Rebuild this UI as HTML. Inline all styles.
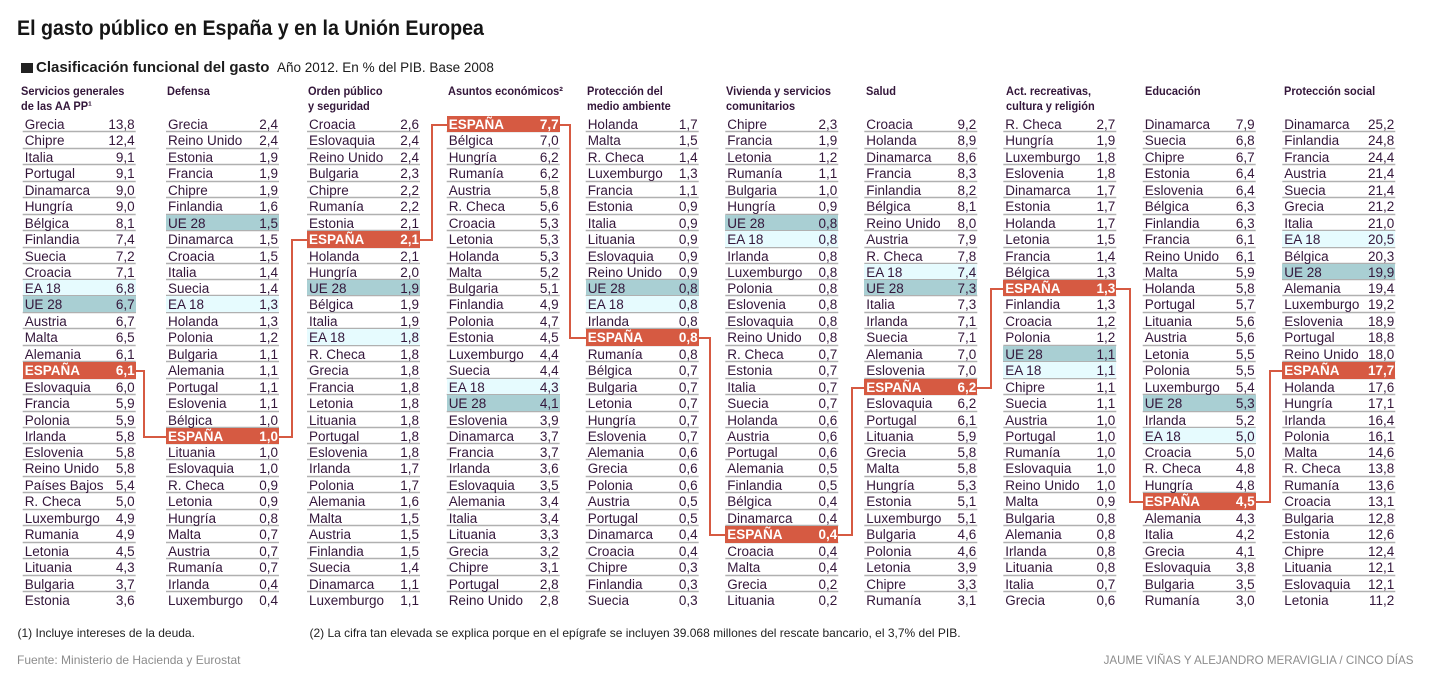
<!DOCTYPE html>
<html lang="es">
<head>
<meta charset="utf-8">
<style>
html,body{margin:0;padding:0;background:#fff;}
body{width:1430px;height:676px;position:relative;overflow:hidden;font-family:"Liberation Sans",Arial,sans-serif;}
.t{position:absolute;left:17px;top:16.7px;font-weight:bold;font-size:21px;line-height:24px;color:#151515;white-space:nowrap;transform:scaleX(0.935);transform-origin:0 0;}
.sq{position:absolute;left:21px;top:62.5px;width:12px;height:10.5px;background:#222;}
.st{position:absolute;left:36px;top:58.8px;font-weight:bold;font-size:15px;line-height:18px;color:#1c1c1c;white-space:nowrap;}
.st2{position:absolute;left:277px;top:59.3px;font-size:13.5px;line-height:18px;color:#1c1c1c;white-space:nowrap;}
.h{position:absolute;top:84.4px;font-weight:bold;font-size:12px;line-height:14.3px;color:#33163a;white-space:nowrap;transform:scaleX(0.917);transform-origin:0 0;}
.c{position:absolute;top:116px;width:113px;}
.c>div{height:16px;box-sizing:border-box;line-height:18px;padding-left:2px;position:relative;white-space:nowrap;font-size:13.5px;color:#33163a;}
.c>div:nth-child(2n){height:17px;}
.c>div:nth-child(10n){height:16px;}
.c>div b{position:absolute;right:1px;top:0;font-weight:normal;}
.c>div.ue{background:#a9cfd3;border-bottom:1px solid #b0b0b0;}
.c>div.ea{background:#e6fbfe;border-bottom:1px solid #b0b0b0;}
.c>div.es{background:#d65a42;color:#fff;font-weight:bold;}
.c>div.es b{font-weight:bold;}
.fn{position:absolute;top:625.8px;font-size:12px;line-height:14px;color:#222;white-space:nowrap;}
.src{position:absolute;left:17px;top:653.3px;font-size:12px;line-height:14px;color:#8c8c8c;white-space:nowrap;}
.cr{position:absolute;right:16.5px;top:653.5px;font-size:11.6px;line-height:14px;color:#8c8c8c;white-space:nowrap;}
svg{position:absolute;left:0;top:0;}
</style>
</head>
<body>
<div class="t">El gasto público en España y en la Unión Europea</div>
<div class="sq"></div>
<div class="st">Clasificación funcional del gasto</div>
<div class="st2">Año 2012. En % del PIB. Base 2008</div>

<div class="h" style="left:20.5px">Servicios generales<br>de las AA PP¹</div>
<div class="h" style="left:166.5px">Defensa</div>
<div class="h" style="left:307.5px">Orden público<br>y seguridad</div>
<div class="h" style="left:447.8px">Asuntos económicos²</div>
<div class="h" style="left:587.2px">Protección del<br>medio ambiente</div>
<div class="h" style="left:726.2px">Vivienda y servicios<br>comunitarios</div>
<div class="h" style="left:865.5px">Salud</div>
<div class="h" style="left:1005.5px">Act. recreativas,<br>cultura y religión</div>
<div class="h" style="left:1144.5px">Educación</div>
<div class="h" style="left:1283.5px">Protección social</div>

<svg width="1430" height="676" viewBox="0 0 1430 676">
<defs>
<path id="L" d="M0 131.5h113M0 148.5h113M0 164.5h113M0 181.5h113M0 197.5h113M0 214.5h113M0 230.5h113M0 247.5h113M0 263.5h113M0 279.5h113M0 295.5h113M0 312.5h113M0 328.5h113M0 345.5h113M0 361.5h113M0 378.5h113M0 394.5h113M0 411.5h113M0 427.5h113M0 443.5h113M0 459.5h113M0 476.5h113M0 492.5h113M0 509.5h113M0 525.5h113M0 542.5h113M0 558.5h113M0 575.5h113M0 591.5h113"/>
</defs>
<g fill="none" stroke="#b0b0b0" stroke-width="1.4">
<use href="#L" x="22.7"/>
<use href="#L" x="166"/>
<use href="#L" x="307"/>
<use href="#L" x="446.7"/>
<use href="#L" x="585.7"/>
<use href="#L" x="725.3"/>
<use href="#L" x="864.3"/>
<use href="#L" x="1003.3"/>
<use href="#L" x="1142.7"/>
<use href="#L" x="1282.3"/>
</g>
<g fill="none" stroke="#d65a42" stroke-width="2">
<polyline points="136,371 144,371 144,437 167,437"/>
<polyline points="278,437 292,437 292,240 308,240"/>
<polyline points="420,240 432,240 432,125 447,125"/>
<polyline points="560,125 570,125 570,338 586,338"/>
<polyline points="699,338 710,338 710,535 726,535"/>
<polyline points="838,535 852,535 852,388 865,388"/>
<polyline points="977,388 991,388 991,289 1004,289"/>
<polyline points="1116,289 1130,289 1130,502 1143,502"/>
<polyline points="1255,502 1270,502 1270,371 1283,371"/>
</g>
</svg>

<div class="c" style="left:22.7px">
<div>Grecia<b>13,8</b></div>
<div>Chipre<b>12,4</b></div>
<div>Italia<b>9,1</b></div>
<div>Portugal<b>9,1</b></div>
<div>Dinamarca<b>9,0</b></div>
<div>Hungría<b>9,0</b></div>
<div>Bélgica<b>8,1</b></div>
<div>Finlandia<b>7,4</b></div>
<div>Suecia<b>7,2</b></div>
<div>Croacia<b>7,1</b></div>
<div class="ea">EA 18<b>6,8</b></div>
<div class="ue">UE 28<b>6,7</b></div>
<div>Austria<b>6,7</b></div>
<div>Malta<b>6,5</b></div>
<div>Alemania<b>6,1</b></div>
<div class="es">ESPAÑA<b>6,1</b></div>
<div>Eslovaquia<b>6,0</b></div>
<div>Francia<b>5,9</b></div>
<div>Polonia<b>5,9</b></div>
<div>Irlanda<b>5,8</b></div>
<div>Eslovenia<b>5,8</b></div>
<div>Reino Unido<b>5,8</b></div>
<div>Países Bajos<b>5,4</b></div>
<div>R. Checa<b>5,0</b></div>
<div>Luxemburgo<b>4,9</b></div>
<div>Rumania<b>4,9</b></div>
<div>Letonia<b>4,5</b></div>
<div>Lituania<b>4,3</b></div>
<div>Bulgaria<b>3,7</b></div>
<div>Estonia<b>3,6</b></div>
</div>

<div class="c" style="left:166px">
<div>Grecia<b>2,4</b></div>
<div>Reino Unido<b>2,4</b></div>
<div>Estonia<b>1,9</b></div>
<div>Francia<b>1,9</b></div>
<div>Chipre<b>1,9</b></div>
<div>Finlandia<b>1,6</b></div>
<div class="ue">UE 28<b>1,5</b></div>
<div>Dinamarca<b>1,5</b></div>
<div>Croacia<b>1,5</b></div>
<div>Italia<b>1,4</b></div>
<div>Suecia<b>1,4</b></div>
<div class="ea">EA 18<b>1,3</b></div>
<div>Holanda<b>1,3</b></div>
<div>Polonia<b>1,2</b></div>
<div>Bulgaria<b>1,1</b></div>
<div>Alemania<b>1,1</b></div>
<div>Portugal<b>1,1</b></div>
<div>Eslovenia<b>1,1</b></div>
<div>Bélgica<b>1,0</b></div>
<div class="es">ESPAÑA<b>1,0</b></div>
<div>Lituania<b>1,0</b></div>
<div>Eslovaquia<b>1,0</b></div>
<div>R. Checa<b>0,9</b></div>
<div>Letonia<b>0,9</b></div>
<div>Hungría<b>0,8</b></div>
<div>Malta<b>0,7</b></div>
<div>Austria<b>0,7</b></div>
<div>Rumanía<b>0,7</b></div>
<div>Irlanda<b>0,4</b></div>
<div>Luxemburgo<b>0,4</b></div>
</div>

<div class="c" style="left:307px">
<div>Croacia<b>2,6</b></div>
<div>Eslovaquia<b>2,4</b></div>
<div>Reino Unido<b>2,4</b></div>
<div>Bulgaria<b>2,3</b></div>
<div>Chipre<b>2,2</b></div>
<div>Rumanía<b>2,2</b></div>
<div>Estonia<b>2,1</b></div>
<div class="es">ESPAÑA<b>2,1</b></div>
<div>Holanda<b>2,1</b></div>
<div>Hungría<b>2,0</b></div>
<div class="ue">UE 28<b>1,9</b></div>
<div>Bélgica<b>1,9</b></div>
<div>Italia<b>1,9</b></div>
<div class="ea">EA 18<b>1,8</b></div>
<div>R. Checa<b>1,8</b></div>
<div>Grecia<b>1,8</b></div>
<div>Francia<b>1,8</b></div>
<div>Letonia<b>1,8</b></div>
<div>Lituania<b>1,8</b></div>
<div>Portugal<b>1,8</b></div>
<div>Eslovenia<b>1,8</b></div>
<div>Irlanda<b>1,7</b></div>
<div>Polonia<b>1,7</b></div>
<div>Alemania<b>1,6</b></div>
<div>Malta<b>1,5</b></div>
<div>Austria<b>1,5</b></div>
<div>Finlandia<b>1,5</b></div>
<div>Suecia<b>1,4</b></div>
<div>Dinamarca<b>1,1</b></div>
<div>Luxemburgo<b>1,1</b></div>
</div>

<div class="c" style="left:446.7px">
<div class="es">ESPAÑA<b>7,7</b></div>
<div>Bélgica<b>7,0</b></div>
<div>Hungría<b>6,2</b></div>
<div>Rumanía<b>6,2</b></div>
<div>Austria<b>5,8</b></div>
<div>R. Checa<b>5,6</b></div>
<div>Croacia<b>5,3</b></div>
<div>Letonia<b>5,3</b></div>
<div>Holanda<b>5,3</b></div>
<div>Malta<b>5,2</b></div>
<div>Bulgaria<b>5,1</b></div>
<div>Finlandia<b>4,9</b></div>
<div>Polonia<b>4,7</b></div>
<div>Estonia<b>4,5</b></div>
<div>Luxemburgo<b>4,4</b></div>
<div>Suecia<b>4,4</b></div>
<div class="ea">EA 18<b>4,3</b></div>
<div class="ue">UE 28<b>4,1</b></div>
<div>Eslovenia<b>3,9</b></div>
<div>Dinamarca<b>3,7</b></div>
<div>Francia<b>3,7</b></div>
<div>Irlanda<b>3,6</b></div>
<div>Eslovaquia<b>3,5</b></div>
<div>Alemania<b>3,4</b></div>
<div>Italia<b>3,4</b></div>
<div>Lituania<b>3,3</b></div>
<div>Grecia<b>3,2</b></div>
<div>Chipre<b>3,1</b></div>
<div>Portugal<b>2,8</b></div>
<div>Reino Unido<b>2,8</b></div>
</div>

<div class="c" style="left:585.7px">
<div>Holanda<b>1,7</b></div>
<div>Malta<b>1,5</b></div>
<div>R. Checa<b>1,4</b></div>
<div>Luxemburgo<b>1,3</b></div>
<div>Francia<b>1,1</b></div>
<div>Estonia<b>0,9</b></div>
<div>Italia<b>0,9</b></div>
<div>Lituania<b>0,9</b></div>
<div>Eslovaquia<b>0,9</b></div>
<div>Reino Unido<b>0,9</b></div>
<div class="ue">UE 28<b>0,8</b></div>
<div class="ea">EA 18<b>0,8</b></div>
<div>Irlanda<b>0,8</b></div>
<div class="es">ESPAÑA<b>0,8</b></div>
<div>Rumanía<b>0,8</b></div>
<div>Bélgica<b>0,7</b></div>
<div>Bulgaria<b>0,7</b></div>
<div>Letonia<b>0,7</b></div>
<div>Hungría<b>0,7</b></div>
<div>Eslovenia<b>0,7</b></div>
<div>Alemania<b>0,6</b></div>
<div>Grecia<b>0,6</b></div>
<div>Polonia<b>0,6</b></div>
<div>Austria<b>0,5</b></div>
<div>Portugal<b>0,5</b></div>
<div>Dinamarca<b>0,4</b></div>
<div>Croacia<b>0,4</b></div>
<div>Chipre<b>0,3</b></div>
<div>Finlandia<b>0,3</b></div>
<div>Suecia<b>0,3</b></div>
</div>

<div class="c" style="left:725.3px">
<div>Chipre<b>2,3</b></div>
<div>Francia<b>1,9</b></div>
<div>Letonia<b>1,2</b></div>
<div>Rumanía<b>1,1</b></div>
<div>Bulgaria<b>1,0</b></div>
<div>Hungría<b>0,9</b></div>
<div class="ue">UE 28<b>0,8</b></div>
<div class="ea">EA 18<b>0,8</b></div>
<div>Irlanda<b>0,8</b></div>
<div>Luxemburgo<b>0,8</b></div>
<div>Polonia<b>0,8</b></div>
<div>Eslovenia<b>0,8</b></div>
<div>Eslovaquia<b>0,8</b></div>
<div>Reino Unido<b>0,8</b></div>
<div>R. Checa<b>0,7</b></div>
<div>Estonia<b>0,7</b></div>
<div>Italia<b>0,7</b></div>
<div>Suecia<b>0,7</b></div>
<div>Holanda<b>0,6</b></div>
<div>Austria<b>0,6</b></div>
<div>Portugal<b>0,6</b></div>
<div>Alemania<b>0,5</b></div>
<div>Finlandia<b>0,5</b></div>
<div>Bélgica<b>0,4</b></div>
<div>Dinamarca<b>0,4</b></div>
<div class="es">ESPAÑA<b>0,4</b></div>
<div>Croacia<b>0,4</b></div>
<div>Malta<b>0,4</b></div>
<div>Grecia<b>0,2</b></div>
<div>Lituania<b>0,2</b></div>
</div>

<div class="c" style="left:864.3px">
<div>Croacia<b>9,2</b></div>
<div>Holanda<b>8,9</b></div>
<div>Dinamarca<b>8,6</b></div>
<div>Francia<b>8,3</b></div>
<div>Finlandia<b>8,2</b></div>
<div>Bélgica<b>8,1</b></div>
<div>Reino Unido<b>8,0</b></div>
<div>Austria<b>7,9</b></div>
<div>R. Checa<b>7,8</b></div>
<div class="ea">EA 18<b>7,4</b></div>
<div class="ue">UE 28<b>7,3</b></div>
<div>Italia<b>7,3</b></div>
<div>Irlanda<b>7,1</b></div>
<div>Suecia<b>7,1</b></div>
<div>Alemania<b>7,0</b></div>
<div>Eslovenia<b>7,0</b></div>
<div class="es">ESPAÑA<b>6,2</b></div>
<div>Eslovaquia<b>6,2</b></div>
<div>Portugal<b>6,1</b></div>
<div>Lituania<b>5,9</b></div>
<div>Grecia<b>5,8</b></div>
<div>Malta<b>5,8</b></div>
<div>Hungría<b>5,3</b></div>
<div>Estonia<b>5,1</b></div>
<div>Luxemburgo<b>5,1</b></div>
<div>Bulgaria<b>4,6</b></div>
<div>Polonia<b>4,6</b></div>
<div>Letonia<b>3,9</b></div>
<div>Chipre<b>3,3</b></div>
<div>Rumanía<b>3,1</b></div>
</div>

<div class="c" style="left:1003.3px">
<div>R. Checa<b>2,7</b></div>
<div>Hungría<b>1,9</b></div>
<div>Luxemburgo<b>1,8</b></div>
<div>Eslovenia<b>1,8</b></div>
<div>Dinamarca<b>1,7</b></div>
<div>Estonia<b>1,7</b></div>
<div>Holanda<b>1,7</b></div>
<div>Letonia<b>1,5</b></div>
<div>Francia<b>1,4</b></div>
<div>Bélgica<b>1,3</b></div>
<div class="es">ESPAÑA<b>1,3</b></div>
<div>Finlandia<b>1,3</b></div>
<div>Croacia<b>1,2</b></div>
<div>Polonia<b>1,2</b></div>
<div class="ue">UE 28<b>1,1</b></div>
<div class="ea">EA 18<b>1,1</b></div>
<div>Chipre<b>1,1</b></div>
<div>Suecia<b>1,1</b></div>
<div>Austria<b>1,0</b></div>
<div>Portugal<b>1,0</b></div>
<div>Rumanía<b>1,0</b></div>
<div>Eslovaquia<b>1,0</b></div>
<div>Reino Unido<b>1,0</b></div>
<div>Malta<b>0,9</b></div>
<div>Bulgaria<b>0,8</b></div>
<div>Alemania<b>0,8</b></div>
<div>Irlanda<b>0,8</b></div>
<div>Lituania<b>0,8</b></div>
<div>Italia<b>0,7</b></div>
<div>Grecia<b>0,6</b></div>
</div>

<div class="c" style="left:1142.7px">
<div>Dinamarca<b>7,9</b></div>
<div>Suecia<b>6,8</b></div>
<div>Chipre<b>6,7</b></div>
<div>Estonia<b>6,4</b></div>
<div>Eslovenia<b>6,4</b></div>
<div>Bélgica<b>6,3</b></div>
<div>Finlandia<b>6,3</b></div>
<div>Francia<b>6,1</b></div>
<div>Reino Unido<b>6,1</b></div>
<div>Malta<b>5,9</b></div>
<div>Holanda<b>5,8</b></div>
<div>Portugal<b>5,7</b></div>
<div>Lituania<b>5,6</b></div>
<div>Austria<b>5,6</b></div>
<div>Letonia<b>5,5</b></div>
<div>Polonia<b>5,5</b></div>
<div>Luxemburgo<b>5,4</b></div>
<div class="ue">UE 28<b>5,3</b></div>
<div>Irlanda<b>5,2</b></div>
<div class="ea">EA 18<b>5,0</b></div>
<div>Croacia<b>5,0</b></div>
<div>R. Checa<b>4,8</b></div>
<div>Hungría<b>4,8</b></div>
<div class="es">ESPAÑA<b>4,5</b></div>
<div>Alemania<b>4,3</b></div>
<div>Italia<b>4,2</b></div>
<div>Grecia<b>4,1</b></div>
<div>Eslovaquia<b>3,8</b></div>
<div>Bulgaria<b>3,5</b></div>
<div>Rumanía<b>3,0</b></div>
</div>

<div class="c" style="left:1282.3px">
<div>Dinamarca<b>25,2</b></div>
<div>Finlandia<b>24,8</b></div>
<div>Francia<b>24,4</b></div>
<div>Austria<b>21,4</b></div>
<div>Suecia<b>21,4</b></div>
<div>Grecia<b>21,2</b></div>
<div>Italia<b>21,0</b></div>
<div class="ea">EA 18<b>20,5</b></div>
<div>Bélgica<b>20,3</b></div>
<div class="ue">UE 28<b>19,9</b></div>
<div>Alemania<b>19,4</b></div>
<div>Luxemburgo<b>19,2</b></div>
<div>Eslovenia<b>18,9</b></div>
<div>Portugal<b>18,8</b></div>
<div>Reino Unido<b>18,0</b></div>
<div class="es">ESPAÑA<b>17,7</b></div>
<div>Holanda<b>17,6</b></div>
<div>Hungría<b>17,1</b></div>
<div>Irlanda<b>16,4</b></div>
<div>Polonia<b>16,1</b></div>
<div>Malta<b>14,6</b></div>
<div>R. Checa<b>13,8</b></div>
<div>Rumanía<b>13,6</b></div>
<div>Croacia<b>13,1</b></div>
<div>Bulgaria<b>12,8</b></div>
<div>Estonia<b>12,6</b></div>
<div>Chipre<b>12,4</b></div>
<div>Lituania<b>12,1</b></div>
<div>Eslovaquia<b>12,1</b></div>
<div>Letonia<b>11,2</b></div>
</div>

<div class="fn" style="left:17.5px">(1) Incluye intereses de la deuda.</div>
<div class="fn" style="left:309.5px">(2) La cifra tan elevada se explica porque en el epígrafe se incluyen 39.068 millones del rescate bancario, el 3,7% del PIB.</div>
<div class="src">Fuente: Ministerio de Hacienda y Eurostat</div>
<div class="cr">JAUME VIÑAS Y ALEJANDRO MERAVIGLIA / CINCO DÍAS</div>
</body>
</html>
